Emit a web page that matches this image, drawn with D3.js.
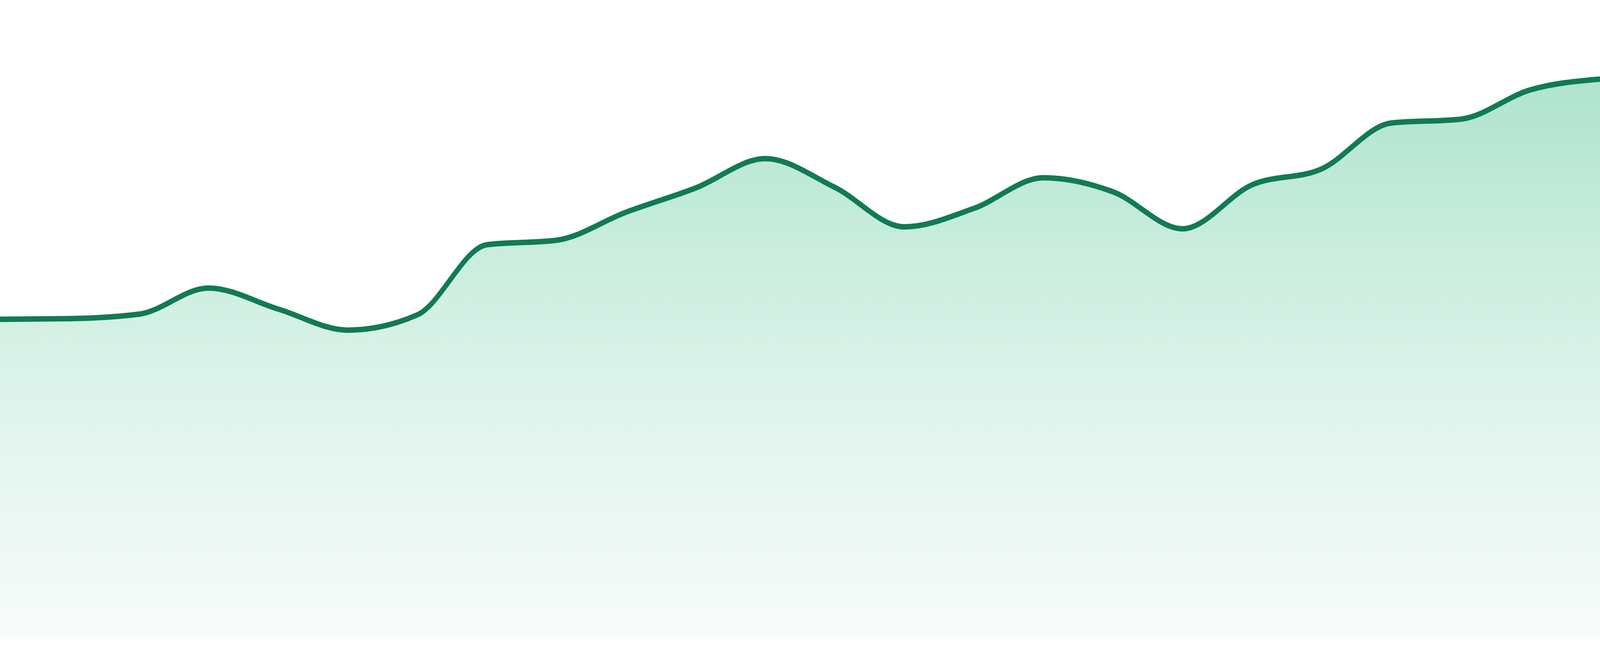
<!DOCTYPE html>
<html>
<head>
<meta charset="utf-8">
<script src="https://cdn.jsdelivr.net/npm/d3@7"></script>
<style>
  html, body { margin: 0; padding: 0; background: #fff; overflow: hidden; }
  svg { display: block; width: 100vw; height: 100vh; }
</style>
</head>
<body>
<svg id="container"></svg>
<script>
// one value per period
const periods = ["P1","P2","P3","P4","P5","P6","P7","P8","P9","P10","P11","P12",
  "P13","P14","P15","P16","P17","P18","P19","P20","P21","P22","P23","P24"];
const values = [49.9, 50.0, 50.7, 54.8, 51.5, 48.2, 50.6, 61.6, 62.3, 66.7, 70.5, 75.1,
  70.6, 64.4, 67.3, 72.1, 69.9, 64.1, 71.0, 73.5, 80.7, 81.3, 85.9, 87.6];
const yDomain = [0, 100];

const width = 4800;
const height = 1680;
const margin = { top: 0, right: 0, bottom: 48, left: 0 };
const lineColor = "#117b52";
const gradStops = [
  { offset: "0%", color: "#afe4cf" },
  { offset: "50%", color: "#d9f2e8" },
  { offset: "100%", color: "#f8fcfb" }
];

const data = periods.map((p, i) => ({ period: p, value: values[i] }));

// drawn in a fixed 4800x1680 frame, stretched to whatever the window is
const svg = d3.select("#container")
  .attr("viewBox", `0 0 ${width} ${height}`)
  .attr("preserveAspectRatio", "none");

const x = d3.scalePoint()
  .domain(periods)
  .range([margin.left, width - margin.right])
  .padding(0);

const y = d3.scaleLinear()
  .domain(yDomain)
  .range([height - margin.bottom, margin.top]);

const grad = svg.append("defs").append("linearGradient")
  .attr("id", "areaFill")
  .attr("gradientUnits", "userSpaceOnUse")
  .attr("x1", 0).attr("x2", 0)
  .attr("y1", y(d3.max(values)))
  .attr("y2", y(0));
grad.selectAll("stop")
  .data(gradStops)
  .join("stop")
  .attr("offset", (d) => d.offset)
  .attr("stop-color", (d) => d.color);

const area = d3.area()
  .x((d) => x(d.period))
  .y0(y(0))
  .y1((d) => y(d.value))
  .curve(d3.curveMonotoneX);

const line = d3.line()
  .x((d) => x(d.period))
  .y((d) => y(d.value))
  .curve(d3.curveMonotoneX);

svg.append("path")
  .datum(data)
  .attr("fill", "url(#areaFill)")
  .attr("d", area);

svg.append("path")
  .datum(data)
  .attr("fill", "none")
  .attr("stroke", lineColor)
  .attr("stroke-width", 14)
  .attr("stroke-linejoin", "round")
  .attr("d", line);
</script>
</body>
</html>
